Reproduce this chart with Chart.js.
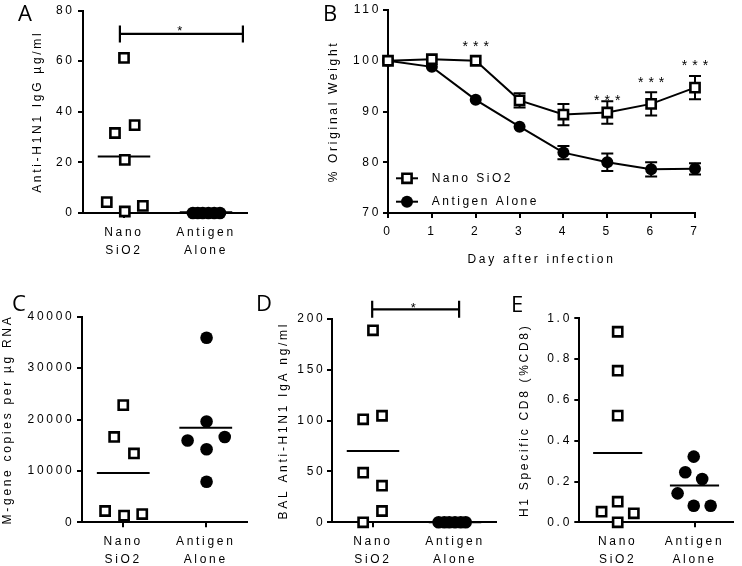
<!DOCTYPE html>
<html><head><meta charset="utf-8">
<script src="https://cdn.jsdelivr.net/npm/chart.js@4.4.1/dist/chart.umd.min.js"></script>
<style>
html,body{margin:0;padding:0;background:#fff;}
#wrap{position:relative;width:742px;height:566px;overflow:hidden;background:#fff;}
canvas{position:absolute;left:0;top:0;}
</style></head><body><div id="wrap"></div>
<script>
// ---------- DATA ----------
const categories = [['Nano', 'SiO2'], ['Antigen', 'Alone']];
const catPositions = [1, 2];
const seriesLabels = ['Nano SiO2', 'Antigen Alone'];

// Panel A: Anti-H1N1 IgG
const aYTicks = [0, 20, 40, 60, 80];
const aNano = [61.3, 31.6, 34.7, 21.0, 4.3, 0.6, 2.8];
const aNanoJitter = [0, -0.11, 0.13, 0.01, -0.21, 0.01, 0.23];
const aAntigen = [0, 0, 0, 0, 0, 0];
const aAntigenJitter = [-0.16, -0.1, -0.04, 0.03, 0.1, 0.17];
const aMeans = [22.3, 0.3];
const aBracket = [0.95, 2.45, 70.75];
const aStar = [1.68, 73.4];

// Panel B: weight curve
const bDays = [0, 1, 2, 3, 4, 5, 6, 7];
const bYTicks = [70, 80, 90, 100, 110];
const bNano = [100, 100.3, 100.0, 92.2, 89.4, 89.8, 91.5, 94.7];
const bNanoErr = [0, 0, 0, 1.4, 2.1, 2.2, 2.3, 2.3];
const bAntigen = [100, 98.8, 92.3, 87.0, 81.9, 80.0, 78.6, 78.7];
const bAntigenErr = [0, 0, 0, 0, 1.3, 1.7, 1.4, 1.1];
const bStarDays = [2, 5, 6, 7];
const bStarY = [103.5, 92.8, 96.4, 99.7];

// Panel C: M-gene copies
const cYTicks = [0, 10000, 20000, 30000, 40000];
const cNano = [22800, 16600, 13400, 2200, 1300, 1600];
const cNanoJitter = [0, -0.11, 0.13, -0.22, 0.01, 0.23];
const cAntigen = [35900, 19600, 15900, 16600, 14200, 7900];
const cAntigenJitter = [0.01, 0.01, -0.22, 0.23, 0.01, 0.01];
const cMeans = [9600, 18400];

// Panel D: BAL IgA
const dYTicks = [0, 50, 100, 150, 200];
const dNano = [188.9, 101.3, 104.8, 48.8, 36.0, 11.1, 0];
const dNanoJitter = [0, -0.12, 0.11, -0.12, 0.11, 0.11, -0.12];
const dAntigen = [0, 0, 0, 0, 0, 0];
const dAntigenJitter = [-0.2, -0.13, -0.07, 0, 0.07, 0.13];
const dMeans = [70.1, 0];
const dBracket = [0.99, 2.05, 209.5];
const dStar = [1.49, 214.0];

// Panel E: H1 specific CD8
const eYTicks = [0, 0.2, 0.4, 0.6, 0.8, 1.0];
const eNano = [0.934, 0.743, 0.523, 0.101, 0.052, 0.044, 0];
const eNanoJitter = [0, 0, 0, 0, -0.21, 0.21, 0];
const eAntigen = [0.322, 0.245, 0.212, 0.142, 0.081, 0.081];
const eAntigenJitter = [-0.01, -0.12, 0.1, -0.22, -0.01, 0.21];
const eMeans = [0.34, 0.18];

// ---------- RENDERING ----------
const FONT = '"Liberation Sans", Arial, sans-serif';
const W = 742, H = 566;
const SPACING = '2.7px';
const MEAN_HALF = 0.32;

function makeCanvas() {
  const c = document.createElement('canvas');
  c.width = W; c.height = H;
  document.getElementById('wrap').appendChild(c);
  return c;
}

const spacingPlugin = {
  id: 'spacing',
  beforeUpdate(c) { c.ctx.letterSpacing = SPACING; },
  beforeLayout(c) { c.ctx.letterSpacing = SPACING; },
  beforeDraw(c) { c.ctx.letterSpacing = SPACING; }
};

function drawMarker(ctx, style, x, y) {
  ctx.save();
  ctx.letterSpacing = '0px';
  if (style === 'rect') {
    const s = 6.5 * Math.SQRT1_2;
    ctx.fillStyle = '#fff'; ctx.strokeStyle = '#000'; ctx.lineWidth = 2.6;
    ctx.beginPath(); ctx.rect(x - s, y - s, 2 * s, 2 * s); ctx.fill(); ctx.stroke();
  } else {
    ctx.fillStyle = '#000';
    ctx.beginPath(); ctx.arc(x, y, 6, 0, Math.PI * 2); ctx.fill();
  }
  ctx.restore();
}

const decoPlugin = {
  id: 'deco',
  beforeDatasetsDraw(chart) {
    const ctx = chart.ctx, xs = chart.scales.x, ys = chart.scales.y;
    chart.data.datasets.forEach(ds => {
      if (!ds.errors) return;
      ctx.save();
      ctx.strokeStyle = '#000'; ctx.lineWidth = 2;
      ds.data.forEach((p, i) => {
        const e = ds.errors[i];
        if (!e) return;
        const x = xs.getPixelForValue(p.x);
        const y1 = ys.getPixelForValue(p.y - e), y2 = ys.getPixelForValue(p.y + e);
        ctx.beginPath();
        ctx.moveTo(x, y1); ctx.lineTo(x, y2);
        ctx.moveTo(x - 6, y1); ctx.lineTo(x + 6, y1);
        ctx.moveTo(x - 6, y2); ctx.lineTo(x + 6, y2);
        ctx.stroke();
      });
      ctx.restore();
    });
  },
  afterDraw(chart, args, o) {
    const ctx = chart.ctx, xs = chart.scales.x, ys = chart.scales.y;
    if (o.letter) {
      ctx.save();
      ctx.letterSpacing = '0px';
      ctx.font = '22px "Open Sans", "Liberation Sans", sans-serif';
      ctx.fillStyle = '#000'; ctx.textAlign = 'left'; ctx.textBaseline = 'alphabetic';
      ctx.fillText(o.letter[0], o.letter[1], o.letter[2]);
      ctx.restore();
    }
    if (o.bracket) {
      const [x1v, x2v, yv] = o.bracket;
      const x1 = xs.getPixelForValue(x1v), x2 = xs.getPixelForValue(x2v), y = ys.getPixelForValue(yv);
      ctx.save();
      ctx.strokeStyle = '#000'; ctx.lineWidth = 2.2;
      ctx.beginPath();
      ctx.moveTo(x1, y); ctx.lineTo(x2, y);
      ctx.moveTo(x1, y - 8.5); ctx.lineTo(x1, y + 8.5);
      ctx.moveTo(x2, y - 8.5); ctx.lineTo(x2, y + 8.5);
      ctx.stroke();
      ctx.restore();
    }
    const drawStars = (text, xv, yv, spacing, size) => {
      const x = xs.getPixelForValue(xv), y = ys.getPixelForValue(yv);
      ctx.save();
      ctx.letterSpacing = spacing + 'px';
      ctx.font = size + 'px ' + FONT;
      ctx.fillStyle = '#000'; ctx.textAlign = 'center'; ctx.textBaseline = 'alphabetic';
      ctx.fillText(text, x + spacing / 2, y + 0.58 * size);
      ctx.restore();
    };
    if (o.star) drawStars('*', o.star[0], o.star[1], 0, 13);
    if (o.stars) o.stars.days.forEach((d, i) => drawStars('***', d, o.stars.y[i], 5, 14));
    if (o.legend) {
      const ca = chart.chartArea;
      chart.data.datasets.forEach((ds, i) => {
        const y = ca.bottom - 34.7 + i * 23.4;
        const x0 = ca.left + 8, x1 = ca.left + 30;
        ctx.save();
        ctx.strokeStyle = '#000'; ctx.lineWidth = 2;
        ctx.beginPath(); ctx.moveTo(x0, y); ctx.lineTo(x1, y); ctx.stroke();
        ctx.restore();
        drawMarker(ctx, ds.pointStyle, (x0 + x1) / 2, y);
        ctx.save();
        ctx.letterSpacing = '2.5px';
        ctx.font = '12px ' + FONT;
        ctx.fillStyle = '#000'; ctx.textAlign = 'left'; ctx.textBaseline = 'middle';
        ctx.fillText(ds.label, ca.left + 43.7, y);
        ctx.restore();
      });
    }
  }
};
Chart.register(spacingPlugin, decoPlugin);

const gridCfg = { display: true, drawOnChartArea: false, drawTicks: true, tickLength: 5, lineWidth: 2, color: '#000', tickColor: '#000', tickWidth: 2 };
const borderCfg = { display: true, color: '#000', width: 2 };

function yScale(p) {
  return {
    type: 'linear', position: 'left', min: p.yMin, max: p.yMax,
    afterBuildTicks: s => { s.ticks = p.yTicks.map(v => ({ value: v })); },
    afterFit: s => { s.width = p.yW; },
    border: borderCfg, grid: gridCfg,
    ticks: { color: '#000', font: { family: FONT, size: 12 }, padding: p.yPad, callback: p.yFmt },
    title: { display: true, text: p.yTitle, color: '#000', font: { family: FONT, size: 12, lineHeight: 1.2 }, padding: { top: 0, bottom: 0 } }
  };
}
function xScale(p) {
  return {
    type: 'linear', position: 'bottom', min: p.xMin, max: p.xMax,
    afterBuildTicks: s => { s.ticks = p.xTicks.map(v => ({ value: v })); },
    afterFit: s => { s.height = p.xH; },
    border: borderCfg, grid: gridCfg,
    ticks: { color: '#000', font: { family: FONT, size: 12, lineHeight: p.xLH }, padding: p.xPad, maxRotation: 0, minRotation: 0, autoSkip: false, callback: p.xFmt },
    title: p.xTitle ? { display: true, text: p.xTitle, color: '#000', font: { family: FONT, size: 12, lineHeight: 1.2 }, padding: { top: 0, bottom: 0 } } : { display: false }
  };
}
function baseOptions(p) {
  return {
    responsive: false, animation: false, events: [], devicePixelRatio: 1,
    layout: { padding: { left: p.l - p.yW, top: p.t, right: W - p.r, bottom: H - p.b - p.xH } },
    plugins: { legend: { display: false }, tooltip: { enabled: false }, deco: p.deco || {} },
    scales: { x: xScale(p), y: yScale(p) }
  };
}

const catFmt = v => categories[catPositions.indexOf(v)];

function scatterPanel(p) {
  const pts = (vals, jit, c) => vals.map((v, i) => ({ x: catPositions[c] + jit[i], y: v }));
  const meanLine = (m, c) => [{ x: catPositions[c] - MEAN_HALF, y: m }, { x: catPositions[c] + MEAN_HALF, y: m }];
  const cfg = Object.assign({ xMin: 0.5, xMax: 2.5, xTicks: catPositions, xFmt: catFmt, xLH: 1.52, xPad: 5.3 }, p);
  new Chart(makeCanvas(), {
    type: 'scatter',
    data: { datasets: [
      { label: seriesLabels[0], data: pts(p.nano, p.nanoJ, 0), pointStyle: 'rect', pointRadius: 6.5, pointBorderWidth: 2.6, pointBorderColor: '#000', pointBackgroundColor: '#fff', borderColor: '#000', backgroundColor: '#fff', clip: false },
      { label: seriesLabels[1], data: pts(p.ant, p.antJ, 1), pointStyle: 'circle', pointRadius: 6.3, pointBorderWidth: 0, pointBorderColor: '#000', pointBackgroundColor: '#000', borderColor: '#000', backgroundColor: '#000', clip: false },
      { label: 'mean', data: meanLine(p.means[0], 0), showLine: true, pointRadius: 0, borderColor: '#000', borderWidth: 2, clip: false },
      { label: 'mean', data: meanLine(p.means[1], 1), showLine: true, pointRadius: 0, borderColor: '#000', borderWidth: 2, clip: false }
    ] },
    options: baseOptions(cfg)
  });
}

// A
scatterPanel({
  l: 83, t: 8, r: 247, b: 213, yW: 52.2, xH: 60, yPad: 3.3,
  yMin: 0, yMax: 80, yTicks: aYTicks, yFmt: v => String(v), yTitle: 'Anti-H1N1 IgG µg/ml',
  nano: aNano, nanoJ: aNanoJitter, ant: aAntigen, antJ: aAntigenJitter, means: aMeans,
  deco: { letter: ['A', 18, 21], bracket: aBracket, star: aStar }
});

// B
(function () {
  const cfg = {
    l: 388, t: 10, r: 695, b: 213, yW: 61.2, xH: 54.2, yPad: 2,
    yMin: 70, yMax: 110, yTicks: bYTicks, yFmt: v => String(v), yTitle: '% Original Weight',
    xMin: 0, xMax: 7, xTicks: bDays, xFmt: v => String(v), xLH: 1.2, xPad: 6.8, xTitle: 'Day after infection',
    deco: { letter: ['B', 323, 21], stars: { days: bStarDays, y: bStarY }, legend: true }
  };
  new Chart(makeCanvas(), {
    type: 'line',
    data: { datasets: [
      { label: seriesLabels[0], data: bDays.map((d, i) => ({ x: d, y: bNano[i] })), errors: bNanoErr, borderColor: '#000', borderWidth: 2, pointStyle: 'rect', pointRadius: 6.5, pointBorderWidth: 2.6, pointBorderColor: '#000', pointBackgroundColor: '#fff', tension: 0, clip: false },
      { label: seriesLabels[1], data: bDays.map((d, i) => ({ x: d, y: bAntigen[i] })), errors: bAntigenErr, borderColor: '#000', borderWidth: 2, pointStyle: 'circle', pointRadius: 6, pointBorderWidth: 0, pointBorderColor: '#000', pointBackgroundColor: '#000', tension: 0, clip: false }
    ] },
    options: baseOptions(cfg)
  });
})();

// C
scatterPanel({
  l: 82, t: 316.7, r: 247, b: 522.3, yW: 82, xH: 43.7, yPad: 2.6,
  yMin: 0, yMax: 40000, yTicks: cYTicks, yFmt: v => String(v), yTitle: 'M-gene copies per µg RNA',
  nano: cNano, nanoJ: cNanoJitter, ant: cAntigen, antJ: cAntigenJitter, means: cMeans,
  deco: { letter: ['C', 12, 311] }
});

// D
scatterPanel({
  l: 332, t: 319, r: 496, b: 522.3, yW: 55.2, xH: 43.7, yPad: 1.6,
  yMin: 0, yMax: 200, yTicks: dYTicks, yFmt: v => String(v), yTitle: 'BAL Anti-H1N1 IgA ng/ml',
  nano: dNano, nanoJ: dNanoJitter, ant: dAntigen, antJ: dAntigenJitter, means: dMeans,
  deco: { letter: ['D', 256, 311], bracket: dBracket, star: dStar }
});

// E
scatterPanel({
  l: 579.3, t: 318.3, r: 741, b: 522.3, yW: 62, xH: 43.7, yPad: 2.3,
  yMin: 0, yMax: 1, yTicks: eYTicks, yFmt: v => v.toFixed(1), yTitle: 'H1 Specific CD8 (%CD8)',
  nano: eNano, nanoJ: eNanoJitter, ant: eAntigen, antJ: eAntigenJitter, means: eMeans,
  deco: { letter: ['E', 511, 311.5] }
});
</script>
</body></html>
